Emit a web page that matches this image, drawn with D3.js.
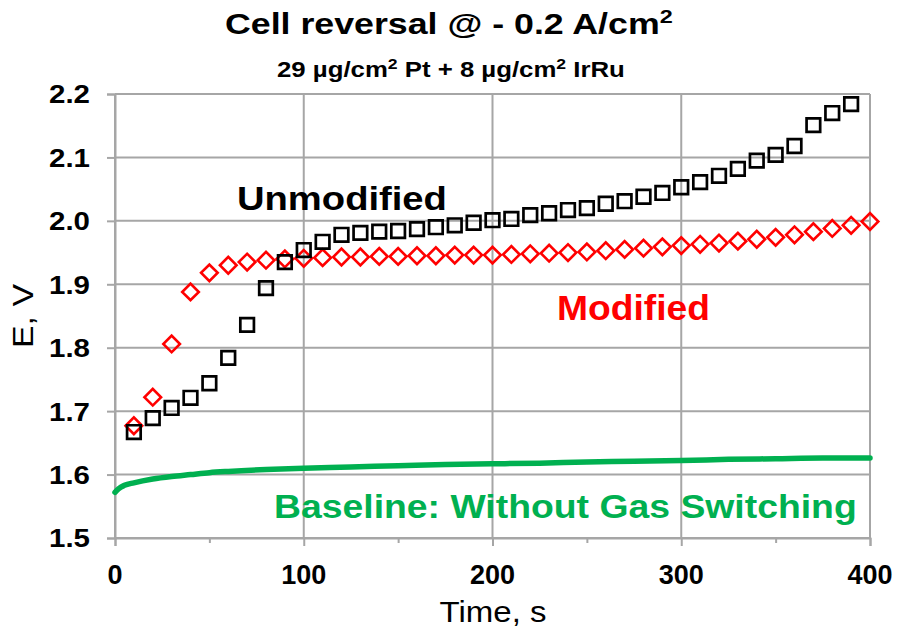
<!DOCTYPE html>
<html>
<head>
<meta charset="utf-8">
<script src="https://cdn.jsdelivr.net/npm/d3@7"></script>
<style>
  html, body { margin: 0; padding: 0; background: #fff; }
  svg { display: block; font-family: "Liberation Sans", Arial, sans-serif; }
</style>
</head>
<body>
<svg id="chart" width="898" height="633"></svg>
<script>
// Cell reversal test: cell voltage vs. time
const xTicks = [0, 100, 200, 300, 400];
const xMinorTicks = [50, 150, 250, 350];
const yTicks = [1.5, 1.6, 1.7, 1.8, 1.9, 2.0, 2.1, 2.2];

// Unmodified anode (open squares)
const unmodTime = [10, 20, 30, 40, 50, 60, 70, 80, 90, 100, 110, 120, 130, 140, 150, 160, 170, 180, 190, 200,
  210, 220, 230, 240, 250, 260, 270, 280, 290, 300, 310, 320, 330, 340, 350, 360, 370, 380, 390];
const unmodE = [1.667, 1.689, 1.705, 1.721, 1.744, 1.784, 1.836, 1.894, 1.935, 1.954, 1.967, 1.978, 1.981, 1.983,
  1.984, 1.987, 1.990, 1.993, 1.997, 2.001, 2.003, 2.009, 2.012, 2.017, 2.020, 2.027, 2.031, 2.038, 2.044, 2.053,
  2.061, 2.071, 2.082, 2.095, 2.104, 2.118, 2.151, 2.170, 2.184];

// Modified anode (open diamonds)
const modTime = [10, 20, 30, 40, 50, 60, 70, 80, 90, 100, 110, 120, 130, 140, 150, 160, 170, 180, 190, 200,
  210, 220, 230, 240, 250, 260, 270, 280, 290, 300, 310, 320, 330, 340, 350, 360, 370, 380, 390, 400];
const modE = [1.677, 1.722, 1.806, 1.888, 1.918, 1.930, 1.935, 1.938, 1.940, 1.941, 1.942, 1.943, 1.943, 1.944,
  1.944, 1.945, 1.945, 1.946, 1.946, 1.946, 1.947, 1.948, 1.949, 1.950, 1.951, 1.953, 1.955, 1.957, 1.959, 1.961,
  1.963, 1.965, 1.968, 1.971, 1.974, 1.978, 1.983, 1.988, 1.993, 1.999];

// Baseline run without gas switching (continuous trace)
const baseTime = [0, 2, 5, 10, 20, 30, 40, 50, 60, 80, 100, 125, 150, 175, 200, 225, 250, 275, 300, 325, 350, 375, 400];
const baseE = [1.572, 1.578, 1.583, 1.587, 1.593, 1.597, 1.600, 1.603, 1.605, 1.608, 1.610, 1.612, 1.614, 1.616,
  1.617, 1.618, 1.620, 1.621, 1.622, 1.624, 1.625, 1.626, 1.626];

const svg = d3.select("#chart");
const plotLeft = 115, plotRight = 870, plotTop = 94, plotBottom = 538;

const x = d3.scaleLinear().domain([0, 400]).range([plotLeft, plotRight]);
const y = d3.scaleLinear().domain([1.5, 2.2]).range([plotBottom, plotTop]);

const gridColor = "#a6a6a6";

// Widen a text element horizontally (about its anchor point) to a given width
function fitWidth(sel, width) {
  sel.each(function () {
    const el = d3.select(this);
    const x0 = +el.attr("x"), y0 = +el.attr("y");
    const w = this.getBBox().width;
    const s = width / w;
    const prev = el.attr("transform") || "";
    el.attr("transform", `${prev} translate(${x0},${y0}) scale(${s},1) translate(${-x0},${-y0})`);
  });
  return sel;
}

// Gridlines
const grid = svg.append("g");
grid.selectAll("line.h").data(yTicks).join("line")
  .attr("x1", plotLeft).attr("x2", plotRight)
  .attr("y1", d => y(d)).attr("y2", d => y(d))
  .attr("stroke", gridColor).attr("stroke-width", 2);
grid.selectAll("line.v").data(xTicks).join("line")
  .attr("y1", plotTop).attr("y2", plotBottom)
  .attr("x1", d => x(d)).attr("x2", d => x(d))
  .attr("stroke", gridColor).attr("stroke-width", 2);

// Axes
const xAxis = svg.append("g").attr("transform", `translate(0,${plotBottom})`)
  .call(d3.axisBottom(x).tickValues(xTicks).tickSize(8).tickFormat(""));
const xMinor = svg.append("g").attr("transform", `translate(0,${plotBottom})`)
  .call(d3.axisBottom(x).tickValues(xMinorTicks).tickSize(5).tickFormat(""));
const yAxis = svg.append("g").attr("transform", `translate(${plotLeft},0)`)
  .call(d3.axisLeft(y).tickValues(yTicks).tickSize(8).tickFormat(""));
[xAxis, xMinor, yAxis].forEach(g => {
  g.select(".domain").attr("stroke", gridColor).attr("stroke-width", 2);
  g.selectAll(".tick line").attr("stroke", gridColor).attr("stroke-width", 2);
});
xMinor.select(".domain").remove();

// Tick labels
svg.append("g").selectAll("text").data(xTicks).join("text")
  .attr("x", d => x(d)).attr("y", 584)
  .attr("text-anchor", "middle")
  .attr("font-size", 27).attr("font-weight", "bold").attr("fill", "#000")
  .text(d => d);
svg.append("g").selectAll("text").data(yTicks).join("text")
  .attr("x", 90).attr("y", d => y(d) + 9.5)
  .attr("text-anchor", "end")
  .attr("font-size", 26).attr("font-weight", "bold").attr("fill", "#000")
  .text(d => d.toFixed(1))
  .call(sel => fitWidth(sel, 41));

// Axis titles
fitWidth(svg.append("text").attr("x", 493).attr("y", 622).attr("text-anchor", "middle")
  .attr("font-size", 30).attr("fill", "#000").text("Time, s"), 107);
fitWidth(svg.append("text").attr("x", 0).attr("y", 0)
  .attr("transform", "translate(33,316) rotate(-90)").attr("text-anchor", "middle")
  .attr("font-size", 30).attr("fill", "#000").text("E, V"), 64);

// Baseline trace
svg.append("path")
  .datum(baseTime.map((t, i) => [t, baseE[i]]))
  .attr("fill", "none").attr("stroke", "#00b050").attr("stroke-width", 5.5)
  .attr("stroke-linecap", "round").attr("stroke-linejoin", "round")
  .attr("d", d3.line().x(d => x(d[0])).y(d => y(d[1])).curve(d3.curveMonotoneX));

// Modified: open diamonds
const diamond = d3.symbol().type(d3.symbolSquare).size(138)();
svg.append("g").selectAll("path").data(modTime.map((t, i) => [t, modE[i]])).join("path")
  .attr("d", diamond)
  .attr("transform", d => `translate(${x(d[0])},${y(d[1])}) rotate(45)`)
  .attr("fill", "none").attr("stroke", "#ff0000").attr("stroke-width", 2.6);

// Unmodified: open squares
const square = d3.symbol().type(d3.symbolSquare).size(185)();
svg.append("g").selectAll("path").data(unmodTime.map((t, i) => [t, unmodE[i]])).join("path")
  .attr("d", square)
  .attr("transform", d => `translate(${x(d[0])},${y(d[1])})`)
  .attr("fill", "none").attr("stroke", "#000").attr("stroke-width", 2.7);

// Series annotations
fitWidth(svg.append("text").attr("x", 237).attr("y", 210)
  .attr("font-size", 34).attr("font-weight", "bold").attr("fill", "#000").text("Unmodified"), 210);
fitWidth(svg.append("text").attr("x", 557).attr("y", 320)
  .attr("font-size", 35).attr("font-weight", "bold").attr("fill", "#ff0000").text("Modified"), 153);
fitWidth(svg.append("text").attr("x", 274).attr("y", 518)
  .attr("font-size", 33).attr("font-weight", "bold").attr("fill", "#00b050").text("Baseline: Without Gas Switching"), 583);

// Titles
const title = svg.append("text").attr("x", 225).attr("y", 34)
  .attr("font-size", 29).attr("font-weight", "bold").attr("fill", "#000");
title.append("tspan").text("Cell reversal @ - 0.2 A/cm");
title.append("tspan").attr("font-size", 19).attr("dy", -11).text("2");
fitWidth(title, 448);

const sub = svg.append("text").attr("x", 277).attr("y", 77)
  .attr("font-size", 22).attr("font-weight", "bold").attr("fill", "#000");
sub.append("tspan").text("29 µg/cm");
sub.append("tspan").attr("font-size", 15).attr("dy", -8).text("2");
sub.append("tspan").attr("dy", 8).text(" Pt + 8 µg/cm");
sub.append("tspan").attr("font-size", 15).attr("dy", -8).text("2");
sub.append("tspan").attr("dy", 8).text(" IrRu");
fitWidth(sub, 348);
</script>
</body>
</html>
